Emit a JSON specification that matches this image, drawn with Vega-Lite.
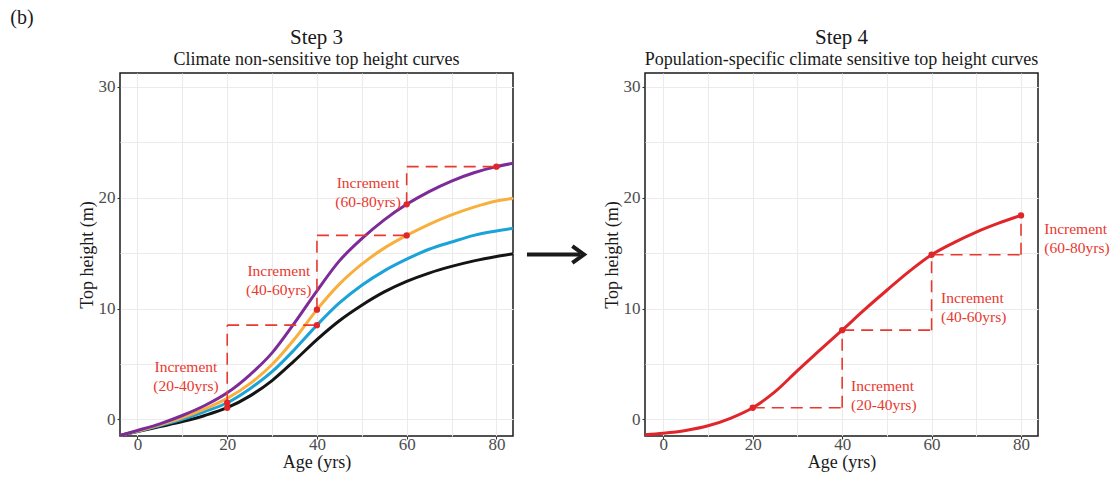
{
  "$schema": "https://vega.github.io/schema/vega-lite/v6.json",
  "padding": {"left": 10, "top": 8, "right": 0, "bottom": 2},
  "title": {"text": "(b)", "anchor": "start", "frame": "bounds", "dx": -67, "fontSize": 20, "font": "Liberation Serif", "fontWeight": "normal", "color": "#1a1a1a", "offset": -2},
  "spacing": 0,
  "datasets": {
    "curves3": [
      {"series": "Black", "age": -3.9, "height": -1.45}, {"series": "Black", "age": 0, "height": -1.1}, {"series": "Black", "age": 5, "height": -0.65}, {"series": "Black", "age": 10, "height": -0.2}, {"series": "Black", "age": 15, "height": 0.35}, {"series": "Black", "age": 20, "height": 1.05}, {"series": "Black", "age": 25, "height": 2.1}, {"series": "Black", "age": 30, "height": 3.5}, {"series": "Black", "age": 35, "height": 5.3}, {"series": "Black", "age": 40, "height": 7.2}, {"series": "Black", "age": 45, "height": 8.9}, {"series": "Black", "age": 50, "height": 10.3}, {"series": "Black", "age": 55, "height": 11.5}, {"series": "Black", "age": 60, "height": 12.45}, {"series": "Black", "age": 65, "height": 13.2}, {"series": "Black", "age": 70, "height": 13.8}, {"series": "Black", "age": 75, "height": 14.3}, {"series": "Black", "age": 80, "height": 14.7}, {"series": "Black", "age": 83.7, "height": 14.95},
      {"series": "Blue", "age": -3.9, "height": -1.45}, {"series": "Blue", "age": 0, "height": -1.08}, {"series": "Blue", "age": 5, "height": -0.55}, {"series": "Blue", "age": 10, "height": 0.0}, {"series": "Blue", "age": 15, "height": 0.7}, {"series": "Blue", "age": 20, "height": 1.5}, {"series": "Blue", "age": 25, "height": 2.75}, {"series": "Blue", "age": 30, "height": 4.3}, {"series": "Blue", "age": 35, "height": 6.3}, {"series": "Blue", "age": 40, "height": 8.5}, {"series": "Blue", "age": 45, "height": 10.5}, {"series": "Blue", "age": 50, "height": 12.1}, {"series": "Blue", "age": 55, "height": 13.4}, {"series": "Blue", "age": 60, "height": 14.45}, {"series": "Blue", "age": 65, "height": 15.35}, {"series": "Blue", "age": 70, "height": 16.0}, {"series": "Blue", "age": 75, "height": 16.6}, {"series": "Blue", "age": 80, "height": 17.0}, {"series": "Blue", "age": 83.7, "height": 17.25},
      {"series": "Orange", "age": -3.9, "height": -1.45}, {"series": "Orange", "age": 0, "height": -1.05}, {"series": "Orange", "age": 5, "height": -0.5}, {"series": "Orange", "age": 10, "height": 0.15}, {"series": "Orange", "age": 15, "height": 0.95}, {"series": "Orange", "age": 20, "height": 1.9}, {"series": "Orange", "age": 25, "height": 3.2}, {"series": "Orange", "age": 30, "height": 4.95}, {"series": "Orange", "age": 35, "height": 7.25}, {"series": "Orange", "age": 40, "height": 9.9}, {"series": "Orange", "age": 45, "height": 12.2}, {"series": "Orange", "age": 50, "height": 14.0}, {"series": "Orange", "age": 55, "height": 15.45}, {"series": "Orange", "age": 60, "height": 16.6}, {"series": "Orange", "age": 65, "height": 17.6}, {"series": "Orange", "age": 70, "height": 18.45}, {"series": "Orange", "age": 75, "height": 19.15}, {"series": "Orange", "age": 80, "height": 19.7}, {"series": "Orange", "age": 83.7, "height": 19.95},
      {"series": "Purple", "age": -3.9, "height": -1.45}, {"series": "Purple", "age": 0, "height": -1.0}, {"series": "Purple", "age": 5, "height": -0.4}, {"series": "Purple", "age": 10, "height": 0.35}, {"series": "Purple", "age": 15, "height": 1.25}, {"series": "Purple", "age": 20, "height": 2.4}, {"series": "Purple", "age": 25, "height": 4.0}, {"series": "Purple", "age": 30, "height": 6.0}, {"series": "Purple", "age": 35, "height": 8.7}, {"series": "Purple", "age": 40, "height": 11.6}, {"series": "Purple", "age": 45, "height": 14.3}, {"series": "Purple", "age": 50, "height": 16.3}, {"series": "Purple", "age": 55, "height": 18.0}, {"series": "Purple", "age": 60, "height": 19.4}, {"series": "Purple", "age": 65, "height": 20.55}, {"series": "Purple", "age": 70, "height": 21.5}, {"series": "Purple", "age": 75, "height": 22.25}, {"series": "Purple", "age": 80, "height": 22.8}, {"series": "Purple", "age": 83.7, "height": 23.1}
    ],
    "segs3": [
      {"age": 20, "height": 1.5, "age2": 20, "height2": 8.5},
      {"age": 20, "height": 8.5, "age2": 40, "height2": 8.5},
      {"age": 40, "height": 9.9, "age2": 40, "height2": 16.6},
      {"age": 40, "height": 16.6, "age2": 60, "height2": 16.6},
      {"age": 60, "height": 19.4, "age2": 60, "height2": 22.8},
      {"age": 60, "height": 22.8, "age2": 80, "height2": 22.8}
    ],
    "dots3": [
      {"age": 20, "height": 1.05}, {"age": 20, "height": 1.5}, {"age": 40, "height": 8.5}, {"age": 40, "height": 9.9}, {"age": 60, "height": 16.6}, {"age": 60, "height": 19.4}, {"age": 80, "height": 22.8}
    ],
    "labels3": [
      {"age": 10.8, "height": 4.7, "label": "Increment\n(20-40yrs)"},
      {"age": 31.5, "height": 13.4, "label": "Increment\n(40-60yrs)"},
      {"age": 51.4, "height": 21.3, "label": "Increment\n(60-80yrs)"}
    ],
    "curve4": [
      {"age": -4.1, "height": -1.38}, {"age": 0, "height": -1.25}, {"age": 5, "height": -1.0}, {"age": 10, "height": -0.58}, {"age": 15, "height": 0.1}, {"age": 20, "height": 1.05}, {"age": 25, "height": 2.5}, {"age": 30, "height": 4.4}, {"age": 35, "height": 6.25}, {"age": 40, "height": 8.05}, {"age": 45, "height": 9.9}, {"age": 50, "height": 11.65}, {"age": 55, "height": 13.35}, {"age": 60, "height": 14.85}, {"age": 65, "height": 15.95}, {"age": 70, "height": 16.9}, {"age": 75, "height": 17.7}, {"age": 80, "height": 18.4}
    ],
    "segs4": [
      {"age": 20, "height": 1.05, "age2": 40, "height2": 1.05},
      {"age": 40, "height": 1.05, "age2": 40, "height2": 8.05},
      {"age": 40, "height": 8.05, "age2": 60, "height2": 8.05},
      {"age": 60, "height": 8.05, "age2": 60, "height2": 14.85},
      {"age": 60, "height": 14.85, "age2": 80, "height2": 14.85},
      {"age": 80, "height": 14.85, "age2": 80, "height2": 18.4}
    ],
    "dots4": [
      {"age": 20, "height": 1.05}, {"age": 40, "height": 8.05}, {"age": 60, "height": 14.85}, {"age": 80, "height": 18.4}
    ],
    "labels4": [
      {"age": 42.0, "height": 3.0, "label": "Increment\n(20-40yrs)"},
      {"age": 62.1, "height": 10.94, "label": "Increment\n(40-60yrs)"},
      {"age": 85.2, "height": 17.2, "label": "Increment\n(60-80yrs)"}
    ],
    "arrow": [
      {"x": 0.085, "x2": 0.732, "tip": 0.78, "y": 0.5}
    ]
  },
  "hconcat": [
    {
      "width": 393,
      "height": 363,
      "title": {"text": "Step 3", "subtitle": "Climate non-sensitive top height curves"},
      "encoding": {
        "x": {"field": "age", "type": "quantitative", "scale": {"domain": [-3.9, 83.7], "nice": false, "zero": false},
          "axis": {"title": "Age (yrs)", "values": [0, 10, 20, 30, 40, 50, 60, 70, 80], "labelExpr": "datum.value % 20 === 0 ? datum.label : ''", "tickOpacity": {"condition": {"test": "datum.value % 20 === 0", "value": 1}, "value": 0}}},
        "y": {"field": "height", "type": "quantitative", "scale": {"domain": [-1.5, 31.25], "nice": false, "zero": false},
          "axis": {"title": "Top height (m)", "values": [0, 5, 10, 15, 20, 25, 30], "labelExpr": "datum.value % 10 === 0 ? datum.label : ''", "tickOpacity": {"condition": {"test": "datum.value % 10 === 0", "value": 1}, "value": 0}}}
      },
      "layer": [
        {
          "data": {"name": "curves3"},
          "mark": {"type": "line", "strokeWidth": 3, "interpolate": "monotone"},
          "encoding": {
            "color": {"field": "series", "type": "nominal", "scale": {"domain": ["Black", "Blue", "Orange", "Purple"], "range": ["#141414", "#1BA3D9", "#F8AF3D", "#7C2B98"]}, "legend": null}
          }
        },
        {
          "data": {"name": "segs3"},
          "mark": {"type": "rule", "strokeWidth": 1.6, "strokeDash": [12, 7], "color": "#E8392F"},
          "encoding": {"x2": {"field": "age2"}, "y2": {"field": "height2"}}
        },
        {
          "data": {"name": "dots3"},
          "mark": {"type": "point", "filled": true, "size": 40, "color": "#E0262A", "opacity": 1},
          "encoding": {}
        },
        {
          "data": {"name": "labels3"},
          "mark": {"type": "text", "font": "Liberation Serif", "fontSize": 15.5, "lineHeight": 19, "lineBreak": "\n", "color": "#E8392F", "align": "center", "baseline": "middle"},
          "encoding": {"text": {"field": "label"}}
        }
      ]
    },
    {
      "width": 82,
      "height": 363,
      "view": {"stroke": null},
      "data": {"name": "arrow"},
      "encoding": {
        "y": {"field": "y", "type": "quantitative", "scale": {"domain": [0, 1]}, "axis": null}
      },
      "layer": [
        {
          "mark": {"type": "rule", "strokeWidth": 4, "color": "#1a1a1a"},
          "encoding": {
            "x": {"field": "x", "type": "quantitative", "scale": {"domain": [0, 1]}, "axis": null},
            "x2": {"field": "x2"}
          }
        },
        {
          "mark": {"type": "point", "shape": "M-1.4,-1L0,0L-1.4,1", "filled": false, "strokeWidth": 4, "size": 276, "color": "#1a1a1a", "opacity": 1},
          "encoding": {
            "x": {"field": "tip", "type": "quantitative", "scale": {"domain": [0, 1]}, "axis": null}
          }
        }
      ]
    },
    {
      "width": 393,
      "height": 363,
      "title": {"text": "Step 4", "subtitle": "Population-specific climate sensitive top height curves"},
      "encoding": {
        "x": {"field": "age", "type": "quantitative", "scale": {"domain": [-4.1, 83.8], "nice": false, "zero": false},
          "axis": {"title": "Age (yrs)", "values": [0, 10, 20, 30, 40, 50, 60, 70, 80], "labelExpr": "datum.value % 20 === 0 ? datum.label : ''", "tickOpacity": {"condition": {"test": "datum.value % 20 === 0", "value": 1}, "value": 0}}},
        "y": {"field": "height", "type": "quantitative", "scale": {"domain": [-1.5, 31.25], "nice": false, "zero": false},
          "axis": {"title": "Top height (m)", "values": [0, 5, 10, 15, 20, 25, 30], "labelExpr": "datum.value % 10 === 0 ? datum.label : ''", "tickOpacity": {"condition": {"test": "datum.value % 10 === 0", "value": 1}, "value": 0}}}
      },
      "layer": [
        {
          "data": {"name": "curve4"},
          "mark": {"type": "line", "strokeWidth": 3, "interpolate": "monotone", "color": "#E0262A"},
          "encoding": {}
        },
        {
          "data": {"name": "segs4"},
          "mark": {"type": "rule", "strokeWidth": 1.6, "strokeDash": [12, 7], "color": "#E8392F"},
          "encoding": {"x2": {"field": "age2"}, "y2": {"field": "height2"}}
        },
        {
          "data": {"name": "dots4"},
          "mark": {"type": "point", "filled": true, "size": 40, "color": "#E0262A", "opacity": 1},
          "encoding": {}
        },
        {
          "data": {"name": "labels4"},
          "mark": {"type": "text", "font": "Liberation Serif", "fontSize": 15.5, "lineHeight": 19, "lineBreak": "\n", "color": "#E8392F", "align": "left", "baseline": "middle"},
          "encoding": {"text": {"field": "label"}}
        }
      ]
    }
  ],
  "config": {
    "font": "Liberation Serif",
    "background": "white",
    "view": {"stroke": "#1a1a1a", "strokeWidth": 1.5},
    "axis": {"domain": false, "grid": true, "gridColor": "#ebebeb", "gridWidth": 1.1, "tickColor": "#333333", "tickSize": 3, "tickWidth": 1.1, "labelFont": "Liberation Serif", "labelFontSize": 17, "labelColor": "#4d4d4d", "labelPadding": 2, "titleFont": "Liberation Serif", "titleFontSize": 18, "titleFontWeight": "normal", "titleColor": "#1a1a1a", "titlePadding": 2},
    "axisX": {"labelPadding": -3, "titlePadding": 1},
    "title": {"font": "Liberation Serif", "fontSize": 21, "fontWeight": "normal", "color": "#1a1a1a", "subtitleFont": "Liberation Serif", "subtitleFontSize": 18, "subtitleColor": "#1a1a1a", "subtitlePadding": 0, "offset": 4}
  }
}
